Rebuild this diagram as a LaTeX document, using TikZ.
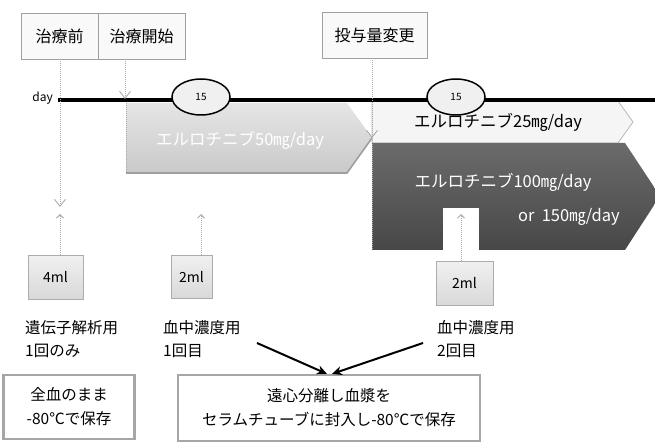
\documentclass[tikz,border=0pt]{standalone}
\usepackage{fontspec}
\setmainfont{Noto Sans CJK JP}
\usetikzlibrary{arrows.meta,shapes.geometric}
\begin{document}
\begin{tikzpicture}[x=1pt,y=-1pt,
  lbl/.style={draw=gray!75, fill=gray!5, line width=0.9pt, minimum height=46pt, inner sep=0pt, font=\fontsize{16}{18}\selectfont},
  vol/.style={draw=gray!65, line width=1pt, top color=gray!12, bottom color=gray!30, inner sep=0pt, font=\fontsize{14}{16}\selectfont},
  dotl/.style={draw=gray!65, line width=1pt, densely dotted},
  barb/.style={-{Straight Barb[length=7pt,width=11pt,line width=0.9pt]}},
  smallbarb/.style={-{Straight Barb[length=3.5pt,width=7pt,line width=0.9pt]}},
  note/.style={align=left, anchor=north west, inner sep=0pt, font=\fontsize{15.5}{23}\selectfont},
  store/.style={draw=gray!70, line width=2.2pt, align=center, inner sep=0pt, font=\fontsize{15.5}{24}\selectfont},
  bigarrow/.style={line width=2pt, -{Stealth[length=10pt,width=9pt]}},
  onbar/.style={inner sep=0pt, font=\fontsize{16.5}{18}\selectfont}]
\useasboundingbox (0,0) rectangle (655,443);
\clip (0,0) rectangle (655,443);

% top labels
\node[lbl, minimum width=77pt] (pre) at (59.5,36) {治療前};
\node[lbl, minimum width=87pt] (start) at (141.5,36) {治療開始};
\node[lbl, minimum width=105pt] (chg) at (374.5,35) {投与量変更};

% 50 mg bar
\shade[top color=gray!20, bottom color=gray!42] (126,103) -- (347,103) -- (372,138) -- (347,173) -- (126,173) -- cycle;
\draw[gray!75, line width=1.6pt] (126,173) -- (347,173) -- (372,138);
\draw[dotl] (126,103) -- (126,173);
\node[onbar, text=white] (t50) at (240,140) {エルロチニブ50㎎/day};

% 25 mg bar
\draw[draw=gray!55, fill=gray!8, line width=0.8pt] (372,101) -- (618,101) -- (633,122) -- (618,143) -- (372,143) -- cycle;
\node[onbar] (t25) at (498,122) {エルロチニブ25㎎/day};

% 100/150 mg bar
\shade[top color=black!58, bottom color=black!72] (372,143) -- (625,143) -- (660,196) -- (625,250) -- (372,250) -- cycle;
\fill[white] (443,208) rectangle (479,251);
\node[onbar, text=white] (t100) at (503,182) {エルロチニブ100㎎/day};
\node[onbar, text=white, anchor=east] (t150) at (620,217) {or\ \ 150㎎/day};

% day line
\coordinate (d0) at (58,100);
\coordinate (d1) at (655,100);
\draw[line width=4.5pt] (d0) -- (d1);
\node[anchor=east, inner sep=0pt, font=\fontsize{12}{14}\selectfont] (day) at (53,98) {day};
\node[ellipse, draw, line width=1.5pt, fill=gray!12, minimum width=58pt, minimum height=36pt, inner sep=0pt, font=\fontsize{10}{12}\selectfont] (e1) at (201,97) {15};
\node[ellipse, draw, line width=1.5pt, fill=gray!12, minimum width=58pt, minimum height=36pt, inner sep=0pt, font=\fontsize{10}{12}\selectfont] (e2) at (456,97) {15};

% arrows from labels
\coordinate (a1) at (60,207);
\coordinate (a2) at (125,99);
\coordinate (a3) at (372,138);
\draw[dotl, barb] (pre.south -| a1) -- (a1);
\draw[dotl, barb] (start.south -| a2) -- (a2);
\draw[dotl, barb] (chg.south -| a3) -- (a3);
\draw[dotl] (a3) -- (372,250);

% sample volumes
\node[vol, minimum width=55pt, minimum height=43pt] (v1) at (55.5,277.5) {4ml};
\node[vol, minimum width=41pt, minimum height=43pt] (v2) at (191.5,277) {2ml};
\node[vol, minimum width=57pt, minimum height=44pt] (v3) at (464.5,283.5) {2ml};
\coordinate (u1) at (60,214);
\coordinate (u2) at (201,214);
\coordinate (u3) at (461,214);
\draw[dotl, smallbarb] (v1.north -| u1) -- (u1);
\draw[dotl, smallbarb] (v2.north -| u2) -- (u2);
\draw[dotl, smallbarb] (v3.north -| u3) -- (u3);

% notes
\node[note] (n1) at (25,320) {遺伝子解析用\\1回のみ};
\node[note] (n2) at (163,320) {血中濃度用\\1回目};
\node[note] (n3) at (437,320) {血中濃度用\\2回目};

% storage boxes
\node[store, minimum width=131pt, minimum height=64pt] (s1) at (69,407) {全血のまま\\-80℃で保存};
\node[store, minimum width=302pt, minimum height=66pt] (s2) at (329,408) {遠心分離し血漿を\\セラムチューブに封入し-80℃で保存};

% arrows to storage
\coordinate (b1) at (257,343);
\coordinate (b2) at (423,343);
\draw[bigarrow] (b1) -- ([xshift=-2pt]s2.north);
\draw[bigarrow] (b2) -- ([xshift=3pt]s2.north);
\end{tikzpicture}
\end{document}
